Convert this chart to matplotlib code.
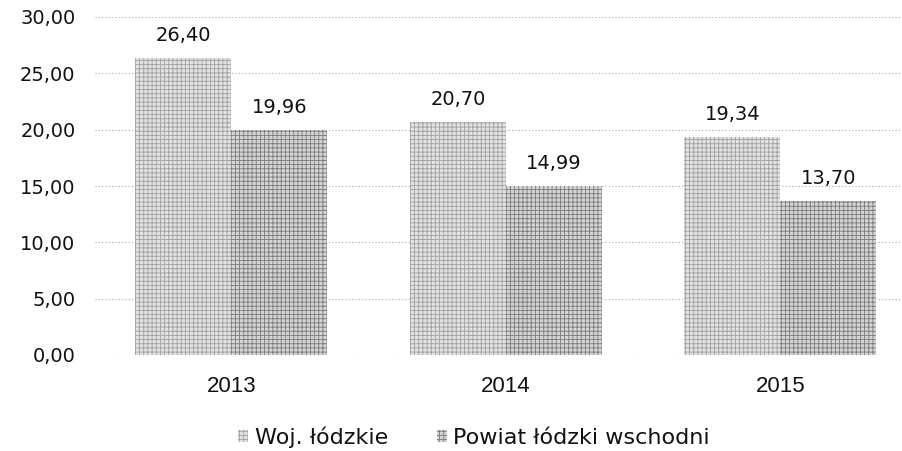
import matplotlib
matplotlib.use('Agg')
import matplotlib.pyplot as plt
import numpy as np

# lata
years = ['2013', '2014', '2015']
# wartosci dla dwoch serii
woj = [26.40, 20.70, 19.34]
powiat = [19.96, 14.99, 13.70]
series_names = ['Woj. łódzkie', 'Powiat łódzki wschodni']

plt.rcParams['font.family'] = ['DejaVu Sans']
plt.rcParams['hatch.linewidth'] = 0.6


def fmt(v):
    return ('%.2f' % v).replace('.', ',')


fig = plt.figure(figsize=(9.03, 4.51), dpi=100)
ax = fig.add_axes([95 / 903, 1 - 355 / 451, 808 / 903, 338 / 451])

x = np.arange(len(years))
w = 0.35
b1 = ax.bar(x - w / 2, woj, w, color='#e2e2e2', edgecolor='#a0a0a0',
            hatch='++++', linewidth=0, label=series_names[0], zorder=2)
b2 = ax.bar(x + w / 2, powiat, w, color='#d4d4d4', edgecolor='#7a7a7a',
            hatch='++++', linewidth=0, label=series_names[1], zorder=2)

for rect, v in zip(list(b1) + list(b2), woj + powiat):
    ax.annotate(fmt(v), (rect.get_x() + rect.get_width() / 2, v),
                xytext=(0, 16), textcoords='offset points',
                ha='center', va='center', fontsize=14, color='#111111')

ax.set_xlim(-0.497, 2.447)
ax.set_ylim(0, 30)
ax.set_yticks(np.arange(0, 31, 5))
ax.set_yticklabels([fmt(t) for t in np.arange(0, 31, 5)], fontsize=14, color='#111111')
ax.set_xticks(x)
ax.set_xticklabels(years, fontsize=16, family=['Liberation Sans'], color='#111111')
ax.tick_params(length=0, pad=14, axis='y')
ax.tick_params(length=0, pad=15, axis='x')
ax.yaxis.grid(True, linestyle=(0, (1, 2)), color='#a8a8a8', linewidth=0.8, zorder=0)
ax.set_axisbelow(True)
for s in ax.spines.values():
    s.set_visible(False)

fig.legend(loc='center', bbox_to_anchor=(474 / 903, 1 - 437 / 451), ncol=2,
           frameon=False, fontsize=16, handlelength=0.45, handleheight=0.45,
           handletextpad=0.3, columnspacing=2.2, labelcolor='#111111')

fig.savefig('out.png', dpi=100)
